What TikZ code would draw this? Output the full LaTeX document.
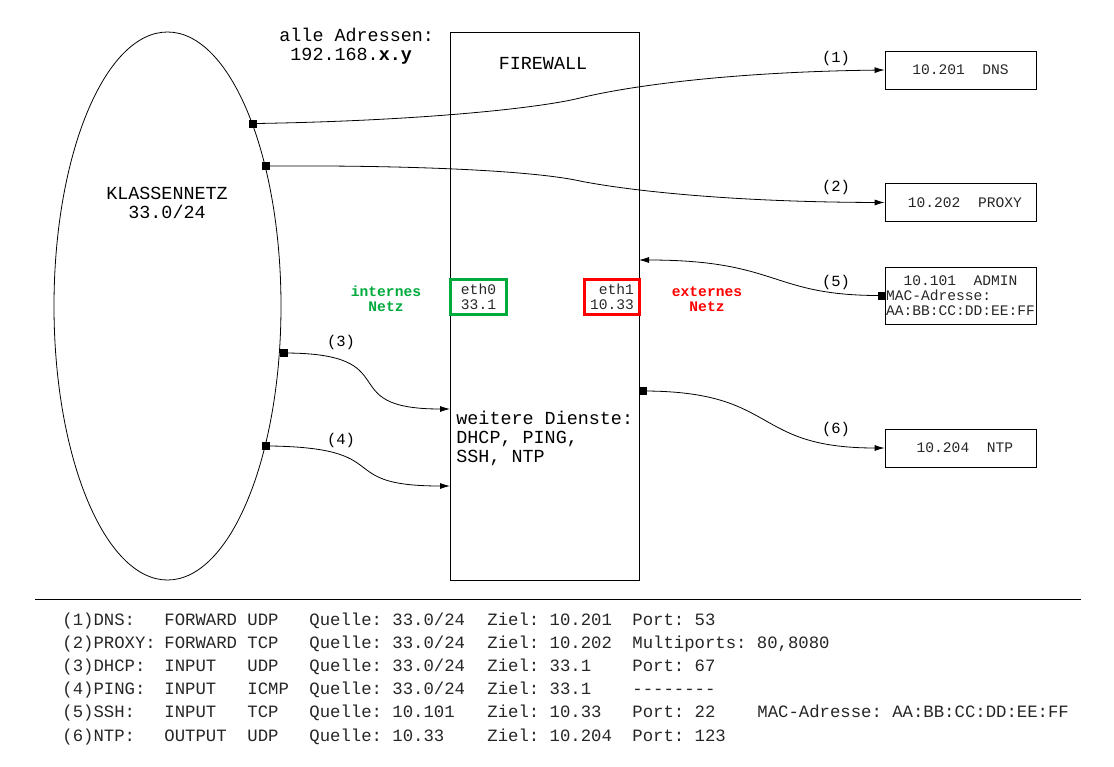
\documentclass[tikz,border=0pt]{standalone}
\usepackage{fontspec}
\setmainfont{Liberation Mono}
\usetikzlibrary{shapes.geometric,arrows.meta}
\definecolor{netgreen}{RGB}{0,170,60}
\definecolor{netred}{RGB}{255,0,0}
\newcommand\bigtxt{\fontsize{18.4}{19}\selectfont\frenchspacing}
\newcommand\tabtxt{\fontsize{17.3}{19}\selectfont\frenchspacing}
\newcommand\smalltxt{\fontsize{14.6}{15}\selectfont\frenchspacing}

\begin{document}
\begin{tikzpicture}[x=1pt,y=-1pt,line width=0.8pt]
    % `host' is used for the boxes on the right, `iface' for eth0/eth1.
    % `sqmark' is the small square where a connector starts.
    \tikzstyle{host} = [draw,minimum width=151pt,minimum height=38pt,inner sep=0pt,font=\smalltxt,text=black!85]
    \tikzstyle{iface} = [draw,line width=2.6pt,minimum height=35pt,inner sep=0pt,font=\smalltxt,text=black!85]
    \tikzstyle{sqmark} = [draw,fill,shape=rectangle,minimum size=7pt,inner sep=0pt,line width=0.4pt]
    \tikzstyle{conn} = [-{Latex[length=10pt,width=6pt]}]
    \tikzstyle{lbl} = [inner sep=0pt,font=\fontsize{15.5}{16}\selectfont]
    \tikzstyle{tab} = [anchor=base west,inner sep=0pt,font=\tabtxt,text=black!85]
    %
    \useasboundingbox (0,0) rectangle (1114,766);
    % Networks and firewall.
    \node[draw,ellipse,minimum width=227pt,minimum height=548pt,inner sep=0pt] (klasse) at (167.5,306) {};
    \node[inner sep=0pt,align=center,font=\bigtxt] (klassetxt) at (167,203) {KLASSENNETZ\\33.0/24};
    \node[draw,minimum width=189pt,minimum height=548pt,inner sep=0pt] (fw) at (544.5,306) {};
    \node[inner sep=0pt,font=\bigtxt] (fwtxt) at (543,63) {FIREWALL};
    \node[inner sep=0pt,anchor=west,align=left,font=\bigtxt] (alle) at (279,46) {alle Adressen:\\~192.168.\textbf{x.y}};
    \node[inner sep=0pt,anchor=west,align=left,font=\bigtxt] (dienste) at (456,438) {weitere Dienste:\\DHCP, PING,\\SSH, NTP};
    % Interfaces.
    \node[iface,draw=netgreen,minimum width=56pt,align=center] (eth0) at (478.5,297) {eth0\\33.1};
    \node[iface,draw=netred,minimum width=55pt,align=right] (eth1) at (612,297) {eth1\\10.33};
    \node[inner sep=0pt,align=center,font=\smalltxt\bfseries,text=netgreen] (intern) at (386,299) {internes\\Netz};
    \node[inner sep=0pt,align=center,font=\smalltxt\bfseries,text=netred] (extern) at (707,299) {externes\\Netz};
    % Hosts.
    \node[host] (dns) at (960.5,70) {10.201~~DNS};
    \node[host] (proxy) at (960.5,202.5) {~10.202~~PROXY};
    \node[host,minimum height=57pt,align=left] (admin) at (960.5,295.5) {~~10.101~~ADMIN\\MAC-Adresse:\\AA:BB:CC:DD:EE:FF};
    \node[host] (ntp) at (960.5,448) {~10.204~~NTP};
    % Start marks and ends.
    \node[sqmark] (s1) at (klasse.65) {};
    \node[sqmark] (s2) at (klasse.55.6) {};
    \node[sqmark] (s3) at (284,353) {};
    \node[sqmark] (s4) at (klasse.-55.4) {};
    \node[sqmark] (s5) at (881.5,295.5) {};
    \node[sqmark] (s6) at (643,391) {};
    \coordinate (in3) at (450,409);
    \coordinate (in4) at (450,486);
    \coordinate (in5) at (639,260);
    % Connectors.
    \draw[conn] (s1.center) .. controls (420,121) and (540,108) .. (580,98)
                .. controls (620,88) and (720,72) .. (dns.west);
    \draw[conn] (s2.center) .. controls (400,165) and (530,170) .. (580,181)
                .. controls (620,189) and (720,202) .. (proxy.west);
    \draw[conn] (s3.center) .. controls (410,353) and (330,409) .. (in3);
    \draw[conn] (s4.center) .. controls (400,447) and (330,486) .. (in4);
    \draw[conn] (s5.center) .. controls (770,296) and (780,260) .. (in5);
    \draw[conn] (s6.center) .. controls (780,391) and (750,448) .. (ntp.west);
    \node[lbl] (l1) at (836,58) {(1)};
    \node[lbl] (l2) at (836,187) {(2)};
    \node[lbl] (l3) at (341,342) {(3)};
    \node[lbl] (l4) at (341,440) {(4)};
    \node[lbl] (l5) at (836,282) {(5)};
    \node[lbl] (l6) at (836,429) {(6)};
    % Rules table.
    \coordinate (sepl) at (35,599);
    \coordinate (sepr) at (1081,599);
    \draw (sepl) -- (sepr);
    \foreach \i/\svc/\chn/\prt/\src/\dst/\port in {
      1/(1)DNS:/FORWARD/UDP/{Quelle: 33.0/24}/{Ziel: 10.201}/{Port: 53},
      2/(2)PROXY:/FORWARD/TCP/{Quelle: 33.0/24}/{Ziel: 10.202}/{Multiports: 80,8080},
      3/(3)DHCP:/INPUT/UDP/{Quelle: 33.0/24}/{Ziel: 33.1}/{Port: 67},
      4/(4)PING:/INPUT/ICMP/{Quelle: 33.0/24}/{Ziel: 33.1}/{-{}-{}-{}-{}-{}-{}-{}-},
      5/(5)SSH:/INPUT/TCP/{Quelle: 10.101}/{Ziel: 10.33}/{Port: 22},
      6/(6)NTP:/OUTPUT/UDP/{Quelle: 10.33}/{Ziel: 10.204}/{Port: 123}} {
      \node[tab] (r\i a) at (62,{625+(\i-1)*23.2}) {\svc};
      \node[tab] (r\i b) at (164,{625+(\i-1)*23.2}) {\chn};
      \node[tab] (r\i c) at (247,{625+(\i-1)*23.2}) {\prt};
      \node[tab] (r\i d) at (309,{625+(\i-1)*23.2}) {\src};
      \node[tab] (r\i e) at (487,{625+(\i-1)*23.2}) {\dst};
      \node[tab] (r\i f) at (632,{625+(\i-1)*23.2}) {\port};
    }
    \node[tab] (r5g) at (757,717.8) {MAC-Adresse: AA:BB:CC:DD:EE:FF};
\end{tikzpicture}
\end{document}
